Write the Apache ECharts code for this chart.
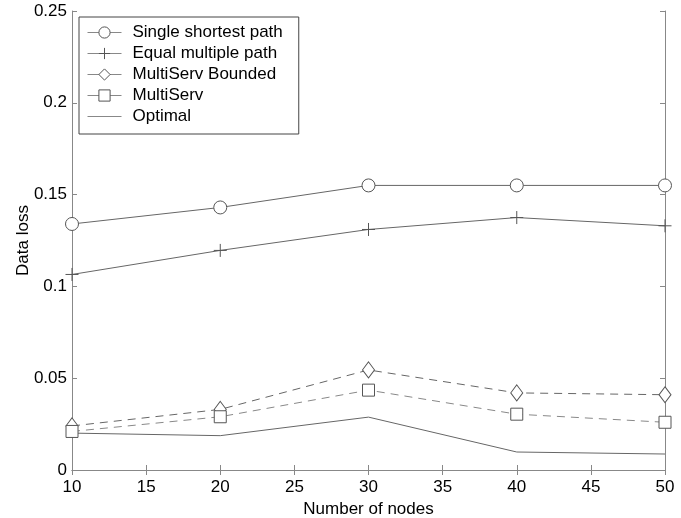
<!DOCTYPE html>
<html><head><meta charset="utf-8">
<script src="https://cdn.jsdelivr.net/npm/echarts@6/dist/echarts.min.js"></script>
<style>html,body{margin:0;padding:0;background:#fff}#c{width:681px;height:518px}</style>
</head><body><div id="c"></div>
<script>
const nodes = [10, 20, 30, 40, 50];
const singleShortest = [0.134, 0.143, 0.155, 0.155, 0.155];
const equalMultiple = [0.1065, 0.1196, 0.131, 0.1375, 0.133];
const multiServBounded = [0.024, 0.033, 0.0545, 0.042, 0.041];
const multiServ = [0.021, 0.029, 0.0435, 0.0304, 0.026];
const optimal = [0.0201, 0.0187, 0.0288, 0.0098, 0.0087];
const seriesNames = ['Single shortest path', 'Equal multiple path', 'MultiServ Bounded', 'MultiServ', 'Optimal'];

const font = 'Arial, "Liberation Sans", sans-serif';
const pair = arr => nodes.map((x, i) => [x, arr[i]]);
const lineCol = '#666';
const mk = (name, arr, symbol, size, dashed, col) => ({
  name, type: 'line', data: pair(arr), symbol, symbolSize: size,
  showSymbol: symbol !== 'none',
  lineStyle: { color: col || lineCol, width: 1, type: dashed ? [8, 6] : 'solid' },
  itemStyle: { color: '#fff', borderColor: '#555', borderWidth: 1 },
  emphasis: { disabled: true }, animation: false
});

const chart = echarts.init(document.getElementById('c'));
const axisCommon = {
  type: 'value', min: 0,
  axisLine: { show: true, lineStyle: { color: '#888', width: 1 } },
  axisTick: { show: true, inside: true, length: 5, lineStyle: { color: '#888' } },
  splitLine: { show: false }
};
const legendData = seriesNames.map((n, i) => i === 4
  ? { name: n, itemStyle: { opacity: 0 } }
  : { name: n });
chart.setOption({
  animation: false,
  grid: { left: 72, right: 16, top: 11, bottom: 48, show: false,
    containLabel: false, outerBoundsMode: 'none' },
  legend: {
    orient: 'vertical', left: 79, top: 17,
    data: legendData,
    itemWidth: 34, itemHeight: 14, itemGap: 4,
    padding: [7, 16, 9, 8],
    borderColor: '#444', borderWidth: 1, backgroundColor: '#fff',
    itemStyle: { color: '#fff', borderColor: '#555', borderWidth: 1 },
    lineStyle: { color: '#888', width: 1, type: 'solid' },
    textStyle: { fontFamily: font, fontSize: 17, color: '#000', padding: [0, 0, 0, 6] }
  },
  xAxis: [
    Object.assign({}, axisCommon, { min: 10, max: 50, interval: 5, position: 'bottom',
      name: 'Number of nodes', nameLocation: 'middle', nameGap: 31,
      nameTextStyle: { fontFamily: font, fontSize: 17, color: '#000' },
      axisLabel: { fontFamily: font, fontSize: 17, color: '#000', margin: 9 } }),
    Object.assign({}, axisCommon, { min: 10, max: 50, interval: 5, position: 'top',
      axisLabel: { show: false } })
  ],
  yAxis: [
    Object.assign({}, axisCommon, { min: 0, max: 0.25, interval: 0.05, position: 'left',
      name: 'Data loss', nameLocation: 'middle', nameGap: 40, nameMoveOverlap: false,
      nameTextStyle: { fontFamily: font, fontSize: 17, color: '#000' },
      axisLabel: { fontFamily: font, fontSize: 17, color: '#000', margin: 5,
        formatter: v => String(+v.toFixed(2)) } }),
    Object.assign({}, axisCommon, { min: 0, max: 0.25, interval: 0.05, position: 'right',
      axisLabel: { show: false } })
  ],
  series: [
    mk(seriesNames[0], singleShortest, 'circle', 13, false),
    mk(seriesNames[1], equalMultiple, 'path://M0,-1 L0,1 M-1,0 L1,0', 13, false),
    mk(seriesNames[2], multiServBounded, 'diamond', [12, 16], true),
    mk(seriesNames[3], multiServ, 'rect', 12, true, '#888'),
    mk(seriesNames[4], optimal, 'none', 0, false)
  ]
});
</script></body></html>
